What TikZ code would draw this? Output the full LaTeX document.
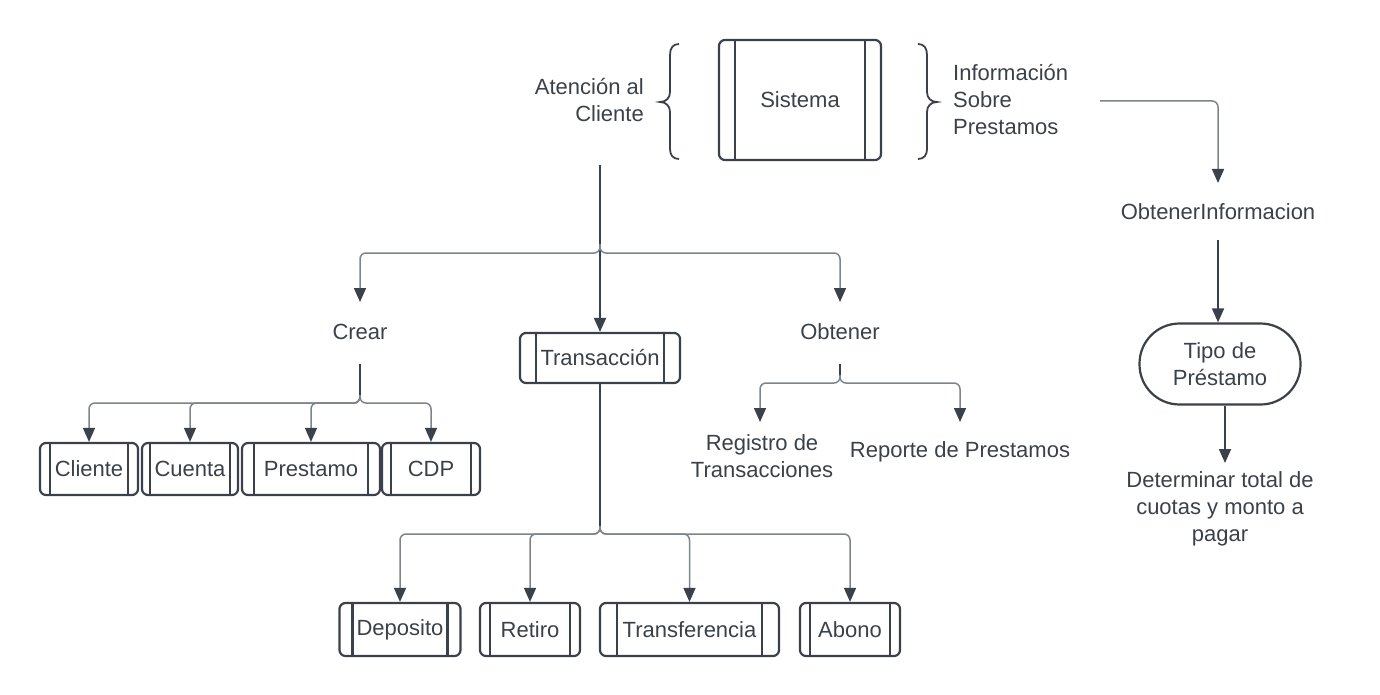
\documentclass[tikz,border=0pt]{standalone}
\usepackage{fontspec}
\setmainfont{Liberation Sans}
\usetikzlibrary{arrows.meta,calc}
\definecolor{ink}{HTML}{3A414A}
\definecolor{wire}{HTML}{7E848C}
\begin{document}
\begin{tikzpicture}[x=1pt,y=-1pt,
  every node/.style={font=\fontsize{22}{27}\selectfont, text=ink, inner sep=0pt},
  proc/.style={draw=ink, line width=2.2pt, rounded corners=6pt,
    path picture={\draw[ink,line width=2.2pt]
      ([xshift=#1]path picture bounding box.north west) -- ([xshift=#1]path picture bounding box.south west)
      ([xshift=-#1]path picture bounding box.north east) -- ([xshift=-#1]path picture bounding box.south east);}},
  tip/.style={-{Triangle[length=14pt,width=12pt,color=ink]}},
  stem/.style={ink, line width=1.8pt},
  br/.style={wire, line width=1.5pt, rounded corners=6pt, tip},
  brace/.style={ink, line width=1.8pt}]
\useasboundingbox (0,0) rectangle (1380,695);

% top
\node[proc=16, minimum width=162, minimum height=120] (sis) at (800,100) {Sistema};
\node[anchor=east, align=right] (aten) at (644,100) {Atención al\\Cliente};
\node[anchor=west, align=left] (info) at (953,100) {Información\\Sobre\\Prestamos};
\draw[brace] (679,44) .. controls (673,44) and (670,48) .. (670,55) -- (670,92)
  .. controls (670,98) and (666,102) .. (660,102)
  .. controls (666,102) and (670,106) .. (670,112) -- (670,149)
  .. controls (670,155) and (673,159) .. (679,159);
\draw[brace] (918,44) .. controls (924,44) and (927,48) .. (927,55) -- (927,92)
  .. controls (927,98) and (931,102) .. (937,102)
  .. controls (931,102) and (927,106) .. (927,112) -- (927,149)
  .. controls (927,155) and (924,159) .. (918,159);

% level 2
\node (crear) at (360,332) {Crear};
\node[proc=16, minimum width=160, minimum height=50] (trans) at (600,358) {Transacción};
\node (obt) at (840,332) {Obtener};
\coordinate (s0) at (600,165);
\coordinate (crearin) at (360,302);
\coordinate (obtin) at (840,302);
\draw[stem, tip] (s0) -- (trans.north);
\draw[br] (600,244) -- (600,253) -| (crearin);
\draw[br] (600,244) -- (600,253) -| (obtin);

% Crear children
\node[proc=10, minimum width=98, minimum height=52] (cli) at (89,469) {Cliente};
\node[proc=8, minimum width=96, minimum height=52] (cue) at (190,469) {Cuenta};
\node[proc=12, minimum width=138, minimum height=52] (pre) at (311,469) {Prestamo};
\node[proc=9, minimum width=98, minimum height=52] (cdp) at (431,469) {CDP};
\coordinate (c0) at (360,364);
\draw[stem] (c0) -- (360,396);
\foreach \n in {cli,cue,pre,cdp} \draw[br] (360,395) -- (360,403) -| (\n.north);

% Obtener children
\node[align=center] (reg) at (762,456) {Registro de\\Transacciones};
\node (rep) at (960,452) {Reporte de Prestamos};
\coordinate (o0) at (840,364);
\coordinate (regin) at (760,422);
\coordinate (repin) at (960,422);
\draw[stem] (o0) -- (840,376);
\draw[br] (840,375) -- (840,383) -| (regin);
\draw[br] (840,375) -- (840,383) -| (repin);

% Transaccion children
\node[proc=13, minimum width=121, minimum height=53] (dep) at (400,629.5) {Deposito};
\node[proc=10, minimum width=100, minimum height=53] (ret) at (530,629.5) {Retiro};
\node[proc=17, minimum width=179, minimum height=53] (tra) at (689.5,629.5) {Transferencia};
\node[proc=10, minimum width=100, minimum height=53] (abo) at (850,629.5) {Abono};
\draw[stem] (trans.south) -- (600,526);
\foreach \n in {dep,ret,tra,abo} \draw[br] (600,526) -- (600,534) -| (\n.north);

% right column
\coordinate (i0) at (1100,101);
\coordinate (oiin) at (1218,183);
\draw[br] (i0) -| (oiin);
\node (oi) at (1218,212) {ObtenerInformacion};
\node[draw=ink, line width=2.2pt, rounded corners=40pt, minimum width=161, minimum height=81, align=center] (tipo) at (1220,364) {Tipo de\\Préstamo};
\coordinate (oi0) at (1218,240);
\draw[stem, tip] (oi0) -- (tipo.north -| oi0);
\node[align=center] (det) at (1220,509) {Determinar total de\\cuotas y monto a\\pagar};
\coordinate (detin) at (1225,463);
\draw[stem, tip] (tipo.south -| detin) -- (detin);
\end{tikzpicture}
\end{document}
